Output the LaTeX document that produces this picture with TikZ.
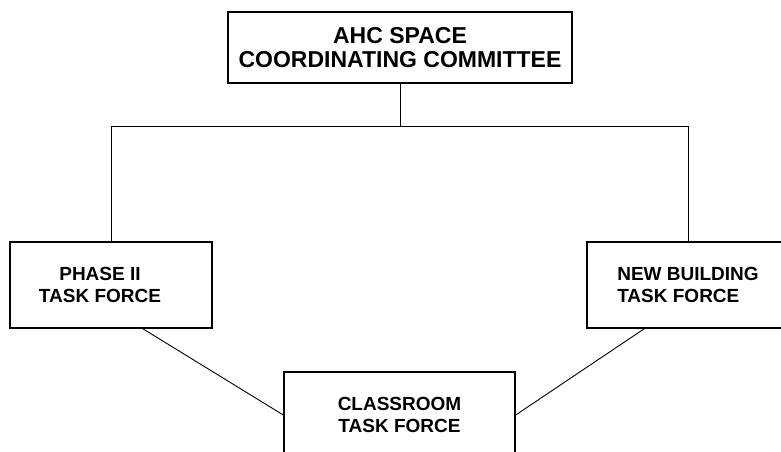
\documentclass[tikz,border=0pt]{standalone}
\usepackage{fontspec}
\setmainfont{Liberation Sans}
\usepackage{tikz}
\usetikzlibrary{positioning, calc}

\begin{document}
\begin{tikzpicture}[
        x=1pt, y=-1pt,
        unit/.style = {draw, rectangle, line width=1.4pt, inner sep=0pt, align=center,
                       font=\bfseries\fontsize{19}{21.5}\selectfont},
        committee/.style = {unit, minimum width=344pt, minimum height=71pt,
                       font=\bfseries\fontsize{23}{24}\selectfont},
        taskforce/.style = {unit, minimum width=202pt, minimum height=86pt},
        link/.style = {line width=0.9pt}
      ]

      % page frame (the side and bottom boxes run off the edge)
      \useasboundingbox (0,0) rectangle (781,452);
      \clip (0,0) rectangle (781,452);

      % ================= COMMITTEE =================
      \node[committee] (ahc) at (400,47.5) {AHC SPACE\\COORDINATING COMMITTEE};

      % ================= TASK FORCES =================
      % text of phase II sits a bit left of the box centre
      \node[taskforce, label={[unit, draw=none, name=phase-txt, xshift=-11pt]center:{PHASE II\\TASK FORCE}}] (phase) at (111,285) {};
      \node[taskforce, align=left] (newbld) at (688,285) {NEW BUILDING\\TASK FORCE};
      \node[taskforce, minimum width=231pt] (classrm) at (399.5,415) {CLASSROOM\\TASK FORCE};

      % tree from the committee
      \draw[link] (ahc.south) -- ++(0,43) coordinate (split);
      \draw[link] (phase.north) |- (split) -| (newbld.north);

      % both side task forces to the classroom one
      \draw[link] (phase.-54) -- (classrm.west);
      \draw[link] (newbld.-135) -- (classrm.east);

    \end{tikzpicture}
\end{document}
